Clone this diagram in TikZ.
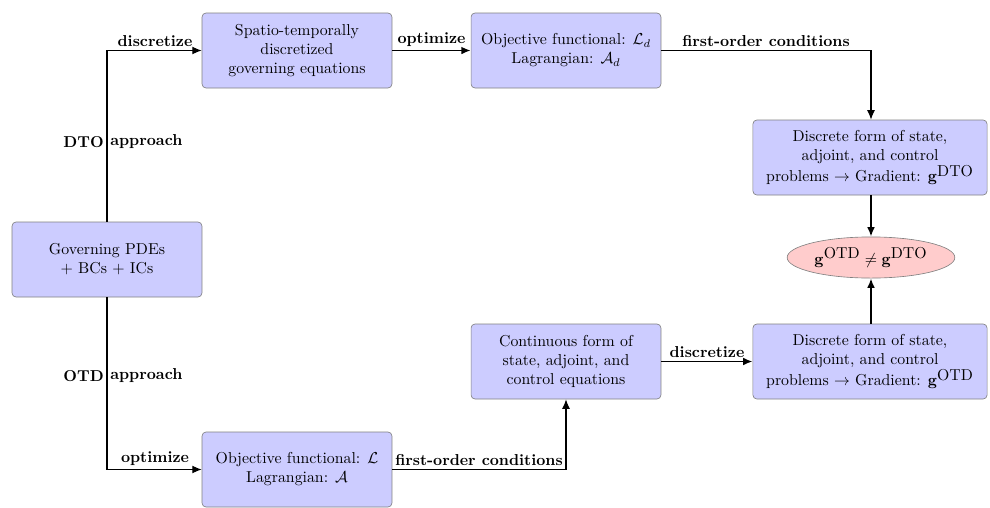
\documentclass[tikz,border=0pt]{standalone}
\usepackage{amssymb}
\usetikzlibrary{shapes.geometric,arrows.meta}
\begin{document}
\begin{tikzpicture}[x=0.632pt,y=-0.632pt,
  box/.style={draw=black!50, fill=blue!20, rounded corners=2.5pt, align=center,
    minimum width=120pt, minimum height=47.4pt, inner sep=2pt, line width=0.4pt},
  wbox/.style={box, minimum width=148pt},
  res/.style={ellipse, draw=black!50, fill=red!20, minimum width=106pt, minimum height=26pt, inner sep=1pt, line width=0.4pt},
  thinarr/.style={-{Latex[length=6pt,width=5pt]}, line width=0.7pt},
  thickarr/.style={-{Latex[length=6pt,width=5pt]}, line width=1.2pt},
  lab/.style={font=\bfseries, inner sep=2.5pt}]
\useasboundingbox (0,0) rectangle (990,508);
\node[box] (gov) at (107,259.5) {Governing PDEs\\+ BCs + ICs};
\node[box] (spt) at (297,50.5) {Spatio-temporally\\discretized\\governing equations};
\node[box] (objd) at (566,50.5) {Objective functional: $\mathcal{L}_d$\\Lagrangian: $\mathcal{A}_d$};
\node[wbox] (ddto) at (870,157.5) {Discrete form of state,\\adjoint, and control\\problems $\rightarrow$ Gradient: $\mathbf{g}^{\mbox{DTO}}$};
\node[res] (neq) at (871,257.5) {$\mathbf{g}^{\mbox{OTD}}\neq\mathbf{g}^{\mbox{DTO}}$};
\node[wbox] (dotd) at (870,361.5) {Discrete form of state,\\adjoint, and control\\problems $\rightarrow$ Gradient: $\mathbf{g}^{\mbox{OTD}}$};
\node[box] (cont) at (566,361.5) {Continuous form of\\state, adjoint, and\\control equations};
\node[box] (obj) at (297,469.5) {Objective functional: $\mathcal{L}$\\Lagrangian: $\mathcal{A}$};

\coordinate (c1) at (107,50.5);
\coordinate (c2) at (107,469.5);
\coordinate (c3) at (871,50.5);
\coordinate (c4) at (566,469.5);

\draw[thinarr] (gov.north) -- (c1) -- (spt.west);
\node[lab, anchor=east] (dto) at (108,142) {DTO};
\node[lab, anchor=west] (appr1) at (106,142) {approach};
\node[lab, anchor=south] (disc1) at (155,50.5) {discretize};
\draw[thickarr] (spt.east) -- (objd.west);
\node[lab, anchor=south] (opt1) at (431.5,50.5) {optimize};
\draw[thinarr] (objd.east) -- (c3) -- (ddto.north -| c3);
\node[lab, anchor=south] (foc1) at (766,50.5) {first-order conditions};
\draw[thickarr] (ddto.south -| neq) -- (neq.north);

\draw[thinarr] (gov.south) -- (c2) -- (obj.west);
\node[lab, anchor=east] (otd) at (108,376) {OTD};
\node[lab, anchor=west] (appr2) at (106,376) {approach};
\node[lab, anchor=south] (opt2) at (155,469.5) {optimize};
\draw[thinarr] (obj.east) -- (c4) -- (cont.south);
\node[lab, anchor=south] (foc2) at (479,469.5) {first-order conditions};
\draw[thickarr] (cont.east) -- (dotd.west);
\node[lab, anchor=south] (disc2) at (707,361.5) {discretize};
\draw[thickarr] (dotd.north -| neq) -- (neq.south);
\end{tikzpicture}
\end{document}
